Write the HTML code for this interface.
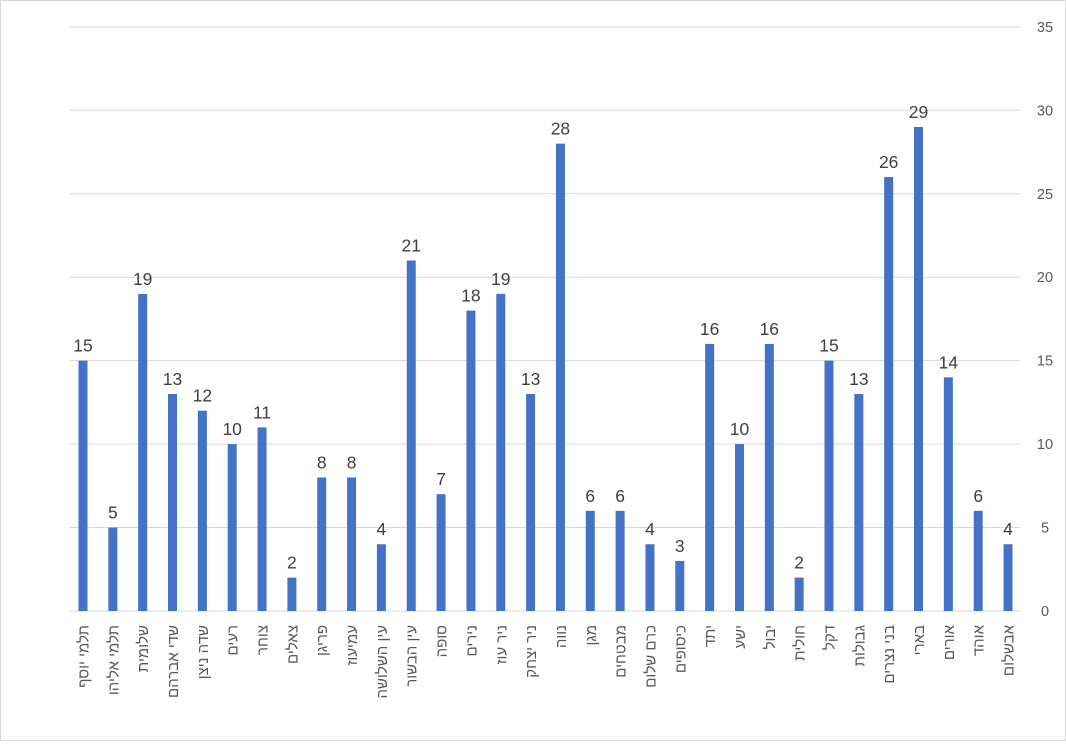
<!DOCTYPE html>
<html><head><meta charset="utf-8"><style>body{margin:0;background:#fff}</style></head><body>
<svg width="1066" height="741" xmlns="http://www.w3.org/2000/svg" font-family="Liberation Sans, 'Noto Sans CJK JP', sans-serif">
<rect x="0.5" y="0.5" width="1065" height="740" fill="#fff" stroke="#d9d9d9"/>
<g id="g"></g>
</svg>
<script>
const vals=[15,5,19,13,12,10,11,2,8,8,4,21,7,18,19,13,28,6,6,4,3,16,10,16,2,15,13,26,29,14,6,4];
const labs=["תלמי יוסף","תלמי אליהו","שלומית","שדי אברהם","שדה ניצן","רעים","צוחר","צאלים","פריגן","עמיעוז","עין השלושה","עין הבשור","סופה","נירים","ניר עוז","ניר יצחק","נווה","מגן","מבטחים","כרם שלום","כיסופים","יתד","ישע","יבול","חולית","דקל","גבולות","בני נצרים","בארי","אורים","אוהד","אבשלום"];
const y0=611,u=16.69,sp=29.84,x0=83;let s="";
for(let i=0;i<=35;i+=5){const y=y0-i*u;s+=`<line x1="70" x2="1020" y1="${y}" y2="${y}" stroke="#d9d9d9"/><text x="1045" y="${y+5}" font-size="14.5" fill="#595959" text-anchor="middle">${i}</text>`;}
vals.forEach((v,i)=>{const x=x0+i*sp,h=v*u;s+=`<rect x="${x-4.5}" y="${y0-h}" width="9" height="${h}" fill="#4472c4"/><text x="${x}" y="${y0-h-9}" font-size="17.5" fill="#404040" text-anchor="middle">${v}</text><text transform="translate(${x+5.5},625) rotate(-90)" text-anchor="end" font-size="15" fill="#595959">${labs[i]}</text>`;});
document.getElementById("g").innerHTML=s;
</script>
</body></html>
